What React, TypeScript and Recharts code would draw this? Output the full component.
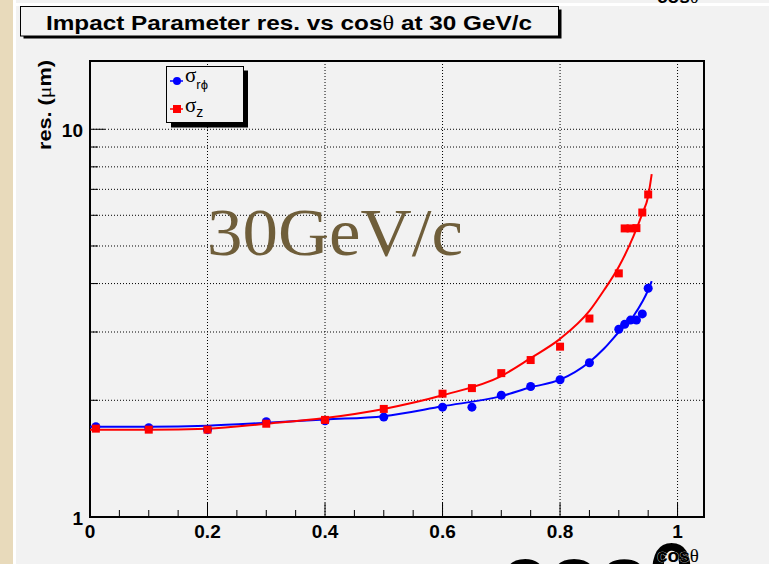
import React from 'react';
import { ComposedChart, Scatter, Line, XAxis, YAxis, CartesianGrid, ReferenceArea } from 'recharts';

// measured points (cos theta, resolution in um)
const cosTheta = [0.01, 0.1, 0.2, 0.3, 0.4, 0.5, 0.6, 0.65, 0.7, 0.75, 0.8, 0.85, 0.9, 0.91, 0.92, 0.93, 0.94, 0.95];
const sigmaRPhi = [1.71, 1.7, 1.68, 1.76, 1.77, 1.81, 1.92, 1.92, 2.06, 2.17, 2.26, 2.5, 3.05, 3.14, 3.22, 3.22, 3.34, 3.89];
const sigmaZ = [1.69, 1.68, 1.68, 1.74, 1.78, 1.9, 2.08, 2.15, 2.35, 2.54, 2.75, 3.25, 4.25, 5.55, 5.55, 5.56, 6.1, 6.79];

// fitted curves
const fitCos = [0, 0.1, 0.2, 0.3, 0.4, 0.5, 0.6, 0.7, 0.75, 0.8, 0.85, 0.875, 0.9, 0.925, 0.94, 0.95, 0.956];
const fitRPhi = [1.71, 1.71, 1.72, 1.75, 1.785, 1.82, 1.93, 2.05, 2.16, 2.26, 2.51, 2.72, 3.0, 3.3, 3.59, 3.85, 4.06];
const fitZ = [1.68, 1.68, 1.69, 1.74, 1.8, 1.9, 2.06, 2.31, 2.57, 2.88, 3.4, 3.85, 4.42, 5.3, 6.06, 6.72, 7.66];

const xTicks = [0, 0.05, 0.1, 0.15, 0.2, 0.25, 0.3, 0.35, 0.4, 0.45, 0.5, 0.55, 0.6, 0.65, 0.7, 0.75, 0.8, 0.85, 0.9, 0.95, 1];
const xLabels = [0, 0.2, 0.4, 0.6, 0.8, 1];
const yTicks = [1, 2, 3, 4, 5, 6, 7, 8, 9, 10];
const yLabels = [1, 10];
const gridX = [0.2, 0.4, 0.6, 0.8, 1];
const gridY = [2, 3, 4, 5, 6, 7, 8, 9, 10];
const xDomain = [0, 1.045];
const yDomain = [1, 15];

const SANS = '"Liberation Sans", Arial, Helvetica, sans-serif';
const SERIF = '"Liberation Serif", "Times New Roman", serif';

const rphiRows = cosTheta.map((x, i) => ({ x, y: sigmaRPhi[i] }));
const zRows = cosTheta.map((x, i) => ({ x, y: sigmaZ[i] }));
const fitRPhiRows = fitCos.map((x, i) => ({ x, y: fitRPhi[i] }));
const fitZRows = fitCos.map((x, i) => ({ x, y: fitZ[i] }));

const XTick = (props: any) => {
  const { x, y, payload } = props;
  const major = xLabels.includes(payload.value);
  return (
    <g>
      <line x1={x} y1={y} x2={x} y2={y - (major ? 14 : 7)} stroke="#000" strokeWidth={1} />
      {major && (
        <text x={x} y={y + 21} textAnchor="middle" fontSize={19} fontWeight="bold" fontFamily={SANS} fill="#000">
          {String(payload.value)}
        </text>
      )}
    </g>
  );
};

const YTick = (props: any) => {
  const { x, y, payload } = props;
  const major = yLabels.includes(payload.value);
  return (
    <g>
      <line x1={x} y1={y} x2={x + (major ? 15 : 8)} y2={y} stroke="#000" strokeWidth={1} />
      {major && (
        <text x={x - 7} y={y + 8} textAnchor="end" fontSize={19} fontWeight="bold" fontFamily={SANS} fill="#000">
          {String(payload.value)}
        </text>
      )}
    </g>
  );
};

export default function App() {
  return (
    <div style={{ position: 'absolute', left: 0, top: 0, width: 769, height: 564, overflow: 'hidden', background: '#f2f2f2' }}>
      <div style={{ position: 'absolute', left: 0, top: 0, width: 13, height: 564, background: '#e8dabb' }} />
      <div style={{ position: 'absolute', left: 13, top: 0, width: 3, height: 564, background: '#fff' }} />
      <div style={{ position: 'absolute', left: 13, top: 3, width: 756, height: 3, background: '#fff' }} />

      <div style={{ position: 'absolute', left: 0, top: 0 }}>
        <ComposedChart width={769} height={564} margin={{ top: 61, right: 65, bottom: 17, left: 60 }}>
          <CartesianGrid
            stroke="#000"
            strokeWidth={1}
            strokeDasharray="1 2"
            verticalValues={gridX}
            horizontalValues={gridY}
          />
          <XAxis
            dataKey="x"
            type="number"
            domain={xDomain}
            allowDataOverflow
            ticks={xTicks}
            interval={0}
            height={30}
            axisLine={false}
            tickLine={false}
            tickSize={0}
            tickMargin={0}
            tick={<XTick />}
          />
          <YAxis
            dataKey="y"
            type="number"
            scale="log"
            domain={yDomain}
            allowDataOverflow
            ticks={yTicks}
            interval={0}
            width={30}
            axisLine={false}
            tickLine={false}
            tickSize={0}
            tickMargin={0}
            tick={<YTick />}
          />
          <Line data={fitRPhiRows} dataKey="y" type="monotone" stroke="#0000ff" strokeWidth={2} dot={false} isAnimationActive={false} />
          <Line data={fitZRows} dataKey="y" type="monotone" stroke="#ff0000" strokeWidth={2} dot={false} isAnimationActive={false} />
          <Scatter data={rphiRows} dataKey="y" fill="#0000ff" shape="circle" isAnimationActive={false} />
          <Scatter data={zRows} dataKey="y" fill="#ff0000" shape="square" isAnimationActive={false} />
          <ReferenceArea x1={xDomain[0]} x2={xDomain[1]} y1={yDomain[0]} y2={yDomain[1]} fill="none" stroke="#000" strokeWidth={2} fillOpacity={0} />
        </ComposedChart>
      </div>

      <svg width={769} height={564} style={{ position: 'absolute', left: 0, top: 0, pointerEvents: 'none' }}>
        {/* cut-off label left from previous frame */}
        <text x={657} y={2.5} fontSize={19} fontWeight="bold" fontFamily={SANS} fill="#000">
          cos<tspan fontWeight="normal" fontFamily={SERIF}>θ</tspan>
        </text>

        {/* title box */}
        <rect x={23.5} y={9.5} width={538} height={29} fill="#000" />
        <rect x={20.5} y={6.5} width={538} height={29.5} fill="#f2f2f2" stroke="#000" strokeWidth={1} />
        <text x={289} y={30} textAnchor="middle" fontSize={21} fontWeight="bold" fontFamily={SANS} fill="#000" textLength={486} lengthAdjust="spacingAndGlyphs">
          Impact Parameter res. vs cos<tspan fontWeight="normal" fontFamily={SERIF}>θ</tspan> at 30 GeV/c
        </text>

        {/* legend */}
        <rect x={171} y={70.5} width={77} height={57} fill="#000" />
        <rect x={166.5} y={66.5} width={77} height={56} fill="#f2f2f2" stroke="#000" strokeWidth={1} />
        <line x1={170} y1={81} x2={183} y2={81} stroke="#0000ff" strokeWidth={1.5} />
        <circle cx={177} cy={81} r={4} fill="#0000ff" />
        <text x={185} y={82} fontSize={21} fontFamily={SERIF} fill="#000">
          σ<tspan fontSize={13} fontFamily={SANS} dy={7}>rϕ</tspan>
        </text>
        <line x1={170} y1={109} x2={183} y2={109} stroke="#ff0000" strokeWidth={1.5} />
        <rect x={173} y={105} width={8} height={8} fill="#ff0000" />
        <text x={185} y={112} fontSize={21} fontFamily={SERIF} fill="#000">
          σ<tspan fontSize={14} fontFamily={SANS} dy={5}>z</tspan>
        </text>

        {/* big annotation */}
        <text x={207} y={255} fontSize={68} fontFamily={SERIF} fill="#6f5e3a" textLength={256} lengthAdjust="spacingAndGlyphs">
          30GeV/c
        </text>

        {/* y axis title */}
        <text x={51} y={60} transform="rotate(-90 51 60)" textAnchor="end" fontSize={18} fontWeight="bold" fontFamily={SANS} fill="#000" textLength={90} lengthAdjust="spacingAndGlyphs">
          res. (<tspan fontWeight="normal" fontFamily={SERIF}>μ</tspan>m)
        </text>

        {/* huge cos theta at the bottom edge */}
        <text x={500} y={605} fontSize={86} fontWeight="bold" fontFamily={SANS} fill="#000">
          cosθ
        </text>

        {/* x axis title */}
        <text x={657} y={562} fontSize={19} fontWeight="bold" fontFamily={SANS} fill="#000" stroke="#f2f2f2" strokeWidth={0.6} paintOrder="stroke">
          cos<tspan fontWeight="normal" fontFamily={SERIF}>θ</tspan>
        </text>
      </svg>
    </div>
  );
}
